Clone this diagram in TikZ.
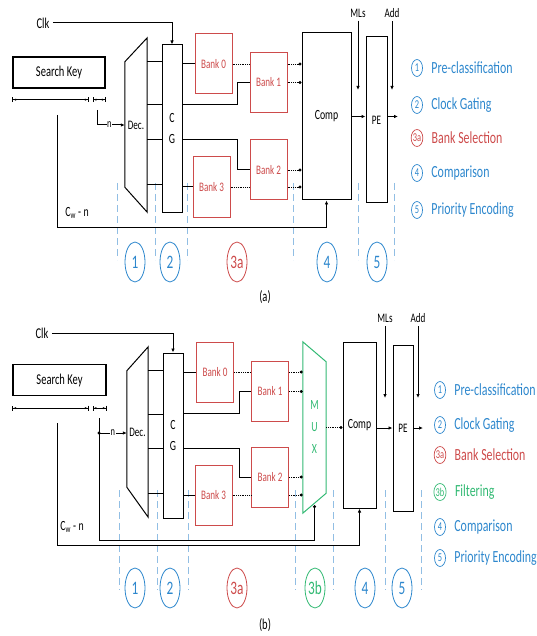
\documentclass[tikz,border=0pt]{standalone}
\usepackage{fontspec}
\setmainfont{Carlito}[FakeStretch=0.7]
\usetikzlibrary{positioning,arrows.meta,shapes.geometric}

\definecolor{stblue}{RGB}{45,135,205}
\definecolor{stred}{RGB}{205,75,75}
\definecolor{stgreen}{RGB}{50,185,115}
\definecolor{guideblue}{RGB}{145,190,228}
\newcommand{\fsz}[1]{\fontsize{#1}{#1}\selectfont}

\begin{document}
\begin{tikzpicture}[x=1pt, y=-1pt,
  blk/.style={draw, line width=1pt, fill=white, inner sep=0pt},
  bank/.style={draw=stred, line width=1pt, fill=white, minimum width=37pt, minimum height=60pt, text=stred, font=\fsz{13}},
  wire/.style={line width=1pt},
  arr/.style={line width=1pt, -{Latex[length=4pt,width=3.5pt]}},
  dotl/.style={densely dotted, line width=0.8pt},
  dots/.style={densely dotted, line width=0.8pt, -{Circle[length=3pt]}},
  guide/.style={draw=guideblue, line width=1pt, dash pattern=on 7pt off 4pt},
  dim/.style={line width=0.8pt, {Bar[width=5pt]Latex[length=3pt]}-{Latex[length=3pt]Bar[width=5pt]}},
  stage/.style={ellipse, draw, line width=0.8pt, minimum width=20pt, minimum height=40pt, inner sep=0pt, font=\fsz{19}},
  tag/.style={ellipse, draw, line width=0.7pt, minimum width=11pt, minimum height=17pt, inner sep=0pt, font=\fsz{12}},
  lbl/.style={font=\fsz{13}},
  legend/.style={right=5pt of #1, font=\fsz{17}},
]
\useasboundingbox (0,0) rectangle (536,636);

% ---------------- (a) ----------------
\foreach \x in {117,155,187,293,358,394} \draw[guide] (\x,183) -- (\x,260);

\node[lbl, font=\fsz{15}] (clkA) at (43,23) {Clk};
\node[blk, minimum width=92pt, minimum height=31pt, line width=1.3pt, font=\fsz{15}] (keyA) at (59,72.5) {Search Key};
\draw[dim] ([yshift=-11pt]keyA.south west) -- ([xshift=-17pt,yshift=-11pt]keyA.south east);
\draw[dim] ([xshift=-13pt,yshift=-11pt]keyA.south east) -- ([yshift=-11pt]keyA.south east);

\node[lbl, minimum width=22pt, minimum height=174pt, inner sep=0pt] (decA) at (136,125) {Dec.};
\draw[wire] ([yshift=-24pt]decA.north west) -- (decA.north east) -- (decA.south east) -- ([yshift=25pt]decA.south west) -- cycle;
\node[blk, minimum width=20pt, minimum height=167pt, align=center, font=\fsz{14}] (cgA) at (172,128.5) {C\\[7pt]G};
\draw[arr] (clkA.east) -| (cgA.north);
\foreach \y in {62,105,140,185} \draw[wire] (decA.east |- 0,\y) -- (cgA.west |- 0,\y);

\node[bank] (bank0A) at (213.5,64) {Bank 0};
\node[bank] (bank1A) at (268.5,82.5) {Bank 1};
\node[bank] (bank2A) at (268.5,170) {Bank 2};
\node[bank] (bank3A) at (211.5,187) {Bank 3};
\draw[wire] (cgA.east |- bank0A) -- (bank0A);
\draw[wire] (cgA.east |- 0,105) -| ([xshift=-12pt]bank1A.west) -- (bank1A.west);
\draw[wire] (cgA.east |- 0,140) -| ([xshift=-12pt]bank2A.west) -- (bank2A.west);
\draw[wire] (cgA.east |- bank3A) -- (bank3A);

\node[blk, minimum width=49pt, minimum height=167pt, font=\fsz{14}] (compA) at (326.5,116.5) {Comp};
\draw[dotl] (bank0A.east) -- (bank0A.east -| bank1A.west);
\draw[dots] (bank0A.east -| bank1A.east) -- (bank0A.east -| compA.west);
\draw[dots] (bank1A.east) -- (bank1A.east -| compA.west);
\draw[dots] (bank2A.east) -- (bank2A.east -| compA.west);
\draw[dotl] (bank3A.east) -- (bank3A.east -| bank2A.west);
\draw[dots] (bank3A.east -| bank2A.east) -- (bank3A.east -| compA.west);

\node[blk, minimum width=21pt, minimum height=166pt, font=\fsz{13}] (peA) at (376.5,120) {PE};
\draw[arr] (compA.east) -- (compA.east -| peA.west);
\coordinate (outA) at (398,116.5);
\draw[arr] (peA.east |- compA.east) -- (outA);

\node[lbl] (mlsA) at (358,13) {MLs};
\node[lbl] (addA) at (392,13) {Add};
\coordinate (mlsEndA) at (358,90);
\coordinate (addEndA) at (392,90);
\draw[arr] (mlsA) -- (mlsEndA);
\draw[arr] (addA) -- (addEndA);

\coordinate (fbA) at (57,115);
\draw[arr] (fbA) |- ([yshift=-27pt]compA.south) -- (compA.south);
\node[lbl, font=\fsz{14}] (cwA) at (77,213) {C\textsubscript{w}\,-\,n};
\coordinate (nA) at (97,110);
\draw[arr] (nA) |- node[pos=0.72, fill=white, inner sep=0.5pt, font=\fsz{12}] {n} (decA.west |- 0,125);

\node[stage, stblue] (s1A) at (135,262) {1};
\node[stage, stblue] (s2A) at (170,262) {2};
\node[stage, stred] (s3aA) at (237,262) {3a};
\node[stage, stblue] (s4A) at (327,262) {4};
\node[stage, stblue] (s5A) at (377,262) {5};
\node[font=\fsz{15}] (capA) at (265,297) {(a)};

\node[tag, stblue] (t1A) at (417,68) {1};
\node[legend=t1A, stblue] {Pre-classification};
\node[tag, stblue] (t2A) at (417,105) {2};
\node[legend=t2A, stblue] {Clock Gating};
\node[tag, stred] (t3aA) at (417,138) {3a};
\node[legend=t3aA, stred] {Bank Selection};
\node[tag, stblue] (t4A) at (417,173) {4};
\node[legend=t4A, stblue] {Comparison};
\node[tag, stblue] (t5A) at (417,210) {5};
\node[legend=t5A, stblue] {Priority Encoding};

% ---------------- (b) ----------------
\foreach \x in {119,157,188,295,333,385,421} \draw[guide] (\x,490) -- (\x,590);

\node[lbl, font=\fsz{15}] (clkB) at (42,333) {Clk};
\node[blk, minimum width=93pt, minimum height=31pt, line width=1.3pt, font=\fsz{15}] (keyB) at (59.5,380) {Search Key};
\draw[dim] ([yshift=-12pt]keyB.south west) -- ([xshift=-18pt,yshift=-12pt]keyB.south east);
\draw[dim] ([xshift=-14pt,yshift=-12pt]keyB.south east) -- ([yshift=-12pt]keyB.south east);

\node[lbl, minimum width=21pt, minimum height=170pt, inner sep=0pt] (decB) at (137.5,432) {Dec.};
\draw[wire] ([yshift=-24pt]decB.north west) -- (decB.north east) -- (decB.south east) -- ([yshift=30pt]decB.south west) -- cycle;
\node[blk, minimum width=20pt, minimum height=165pt, align=center, font=\fsz{14}] (cgB) at (173,435.5) {C\\[7pt]G};
\draw[arr] (clkB.east) -| (cgB.north);
\foreach \y in {370,414,448,493} \draw[wire] (decB.east |- 0,\y) -- (cgB.west |- 0,\y);

\node[bank] (bank0B) at (215,372) {Bank 0};
\node[bank] (bank1B) at (270,391.5) {Bank 1};
\node[bank] (bank2B) at (270,477) {Bank 2};
\node[bank] (bank3B) at (213.5,495) {Bank 3};
\draw[wire] (cgB.east |- bank0B) -- (bank0B);
\draw[wire] (cgB.east |- 0,413) -| ([xshift=-12pt]bank1B.west) -- (bank1B.west);
\draw[wire] (cgB.east |- 0,448) -| ([xshift=-12pt]bank2B.west) -- (bank2B.west);
\draw[wire] (cgB.east |- bank3B) -- (bank3B);

\node[minimum width=23pt, minimum height=171pt, inner sep=0pt, align=center, text=stgreen, font=\fsz{14}] (muxB) at (314.5,427.5) {M\\[8pt]U\\[8pt]X};
\draw[stgreen, line width=1pt] (muxB.north west) -- ([yshift=-20pt]muxB.north east) -- ([yshift=20pt]muxB.south east) -- (muxB.south west) -- cycle;
\draw[dotl] (bank0B.east) -- (bank0B.east -| bank1B.west);
\draw[dots] (bank0B.east -| bank1B.east) -- (bank0B.east -| muxB.west);
\draw[dots] (bank1B.east) -- (bank1B.east -| muxB.west);
\draw[dots] (bank2B.east) -- (bank2B.east -| muxB.west);
\draw[dotl] (bank3B.east) -- (bank3B.east -| bank2B.west);
\draw[dots] (bank3B.east -| bank2B.east) -- (bank3B.east -| muxB.west);

\node[blk, minimum width=33pt, minimum height=166pt, font=\fsz{14}] (compB) at (359.5,425) {Comp};
\draw[dots] (muxB.east) -- (muxB.east -| compB.west);
\node[blk, minimum width=20pt, minimum height=166pt, font=\fsz{13}] (peB) at (403,428) {PE};
\draw[arr] (compB.east |- peB) -- (peB.west);
\coordinate (outB) at (423,428);
\draw[arr] (peB.east) -- (outB);

\node[lbl] (mlsB) at (385,318) {MLs};
\node[lbl] (addB) at (418,318) {Add};
\coordinate (mlsEndB) at (385,398);
\coordinate (addEndB) at (418,398);
\draw[arr] (mlsB) -- (mlsEndB);
\draw[arr] (addB) -- (addEndB);

\coordinate (fbB) at (57,423);
\draw[arr] (fbB) |- ([yshift=-37pt]compB.south) -- (compB.south);
\coordinate (nB) at (99,418);
\coordinate (selB) at (99,433);
\draw[wire] (nB) -- (selB);
\fill (selB) circle (1.6pt);
\draw[arr] (selB) -- node[pos=0.5, fill=white, inner sep=0.5pt, font=\fsz{12}] {n} (decB.west |- selB);
\draw[wire, -{Circle[length=3pt]}] (selB) |- ([yshift=-27pt]muxB.south) -- ([yshift=8pt]muxB.south);
\node[lbl, font=\fsz{14}] (cwB) at (72,527) {C\textsubscript{w}\,-\,n};

\node[stage, stblue] (s1B) at (135,588) {1};
\node[stage, stblue] (s2B) at (170,588) {2};
\node[stage, stred] (s3aB) at (237,588) {3a};
\node[stage, stgreen] (s3bB) at (315,588) {3b};
\node[stage, stblue] (s4B) at (365,588) {4};
\node[stage, stblue] (s5B) at (402,588) {5};
\node[font=\fsz{15}] (capB) at (265,625) {(b)};

\node[tag, stblue] (t1B) at (440,390) {1};
\node[legend=t1B, stblue] {Pre-classification};
\node[tag, stblue] (t2B) at (440,425) {2};
\node[legend=t2B, stblue] {Clock Gating};
\node[tag, stred] (t3aB) at (440,455) {3a};
\node[legend=t3aB, stred] {Bank Selection};
\node[tag, stgreen] (t3bB) at (440,492) {3b};
\node[legend=t3bB, stgreen] {Filtering};
\node[tag, stblue] (t4B) at (440,527) {4};
\node[legend=t4B, stblue] {Comparison};
\node[tag, stblue] (t5B) at (440,558) {5};
\node[legend=t5B, stblue] {Priority Encoding};
\end{tikzpicture}
\end{document}
